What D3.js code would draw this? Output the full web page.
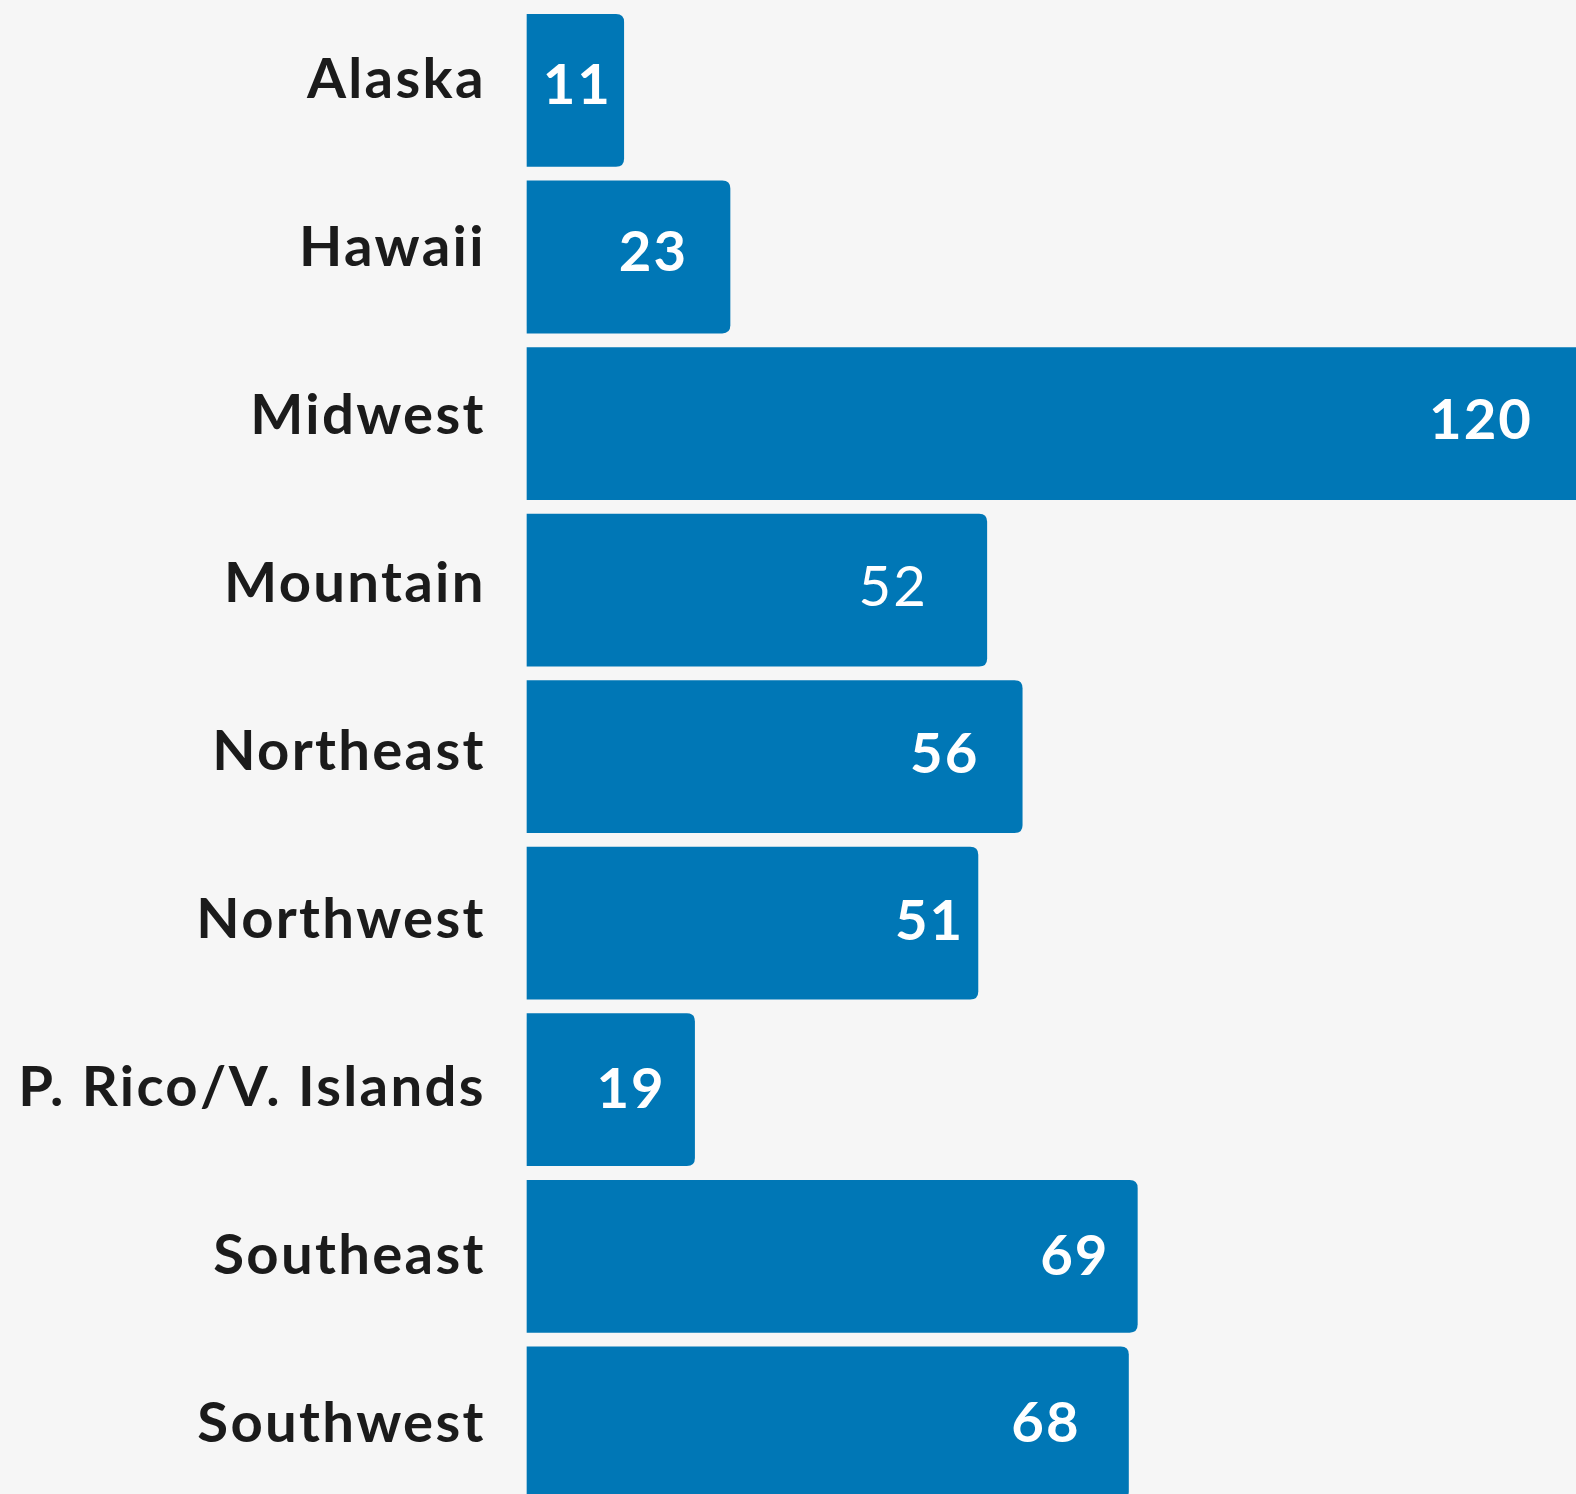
<!DOCTYPE html>
<html>
<head>
<meta charset="utf-8">
<script src="https://cdn.jsdelivr.net/npm/d3@7"></script>
<style>
  html, body { margin: 0; padding: 0; background: #f6f6f6; overflow: hidden; width: 1576px; height: 1494px; }
  svg { display: block; overflow: hidden; }
</style>
</head>
<body>
<script>
const regions = ["Alaska", "Hawaii", "Midwest", "Mountain", "Northeast", "Northwest", "P. Rico/V. Islands", "Southeast", "Southwest"]
const counts = [11, 23, 120, 52, 56, 51, 19, 69, 68]

const w = 1576
const h = 1494
// dessin fait sur une grille un peu plus petite puis agrandi
const vw = 1568
const vh = h * vw / w
const barLeft = 524
const pxPerUnit = 8.81
const r = 8
const nameSpacing = 2.3

// les étiquettes ne sont pas toutes au même endroit dans l'original
const labelInset = [14, 44, 58, 61, 45, 16, 31, 30, 50]
const labelWeight = [700, 700, 700, 400, 700, 700, 700, 700, 700]

let svg = d3.select("body").append("svg").attr("width", w).attr("height", h)
    .attr("viewBox", `0 0 ${vw} ${vh}`)

svg.append("clipPath").attr("id", "clip")
    .append("rect").attr("x", 0).attr("y", 0).attr("width", vw).attr("height", vh)

let x = d3.scaleLinear().domain([0, 120]).range([barLeft, barLeft + 120 * pxPerUnit])
let y = d3.scaleBand().domain(regions).range([14, 1491.6]).paddingInner(0.0827)
// les textes descendent un peu plus vite que les barres
let yName = d3.scalePoint().domain(regions).range([97.5, 1435])
let yVal = d3.scalePoint().domain(regions).range([103.5, 1435])

function barPath(d, i) {
    let x0 = x(0), x1 = x(d), y0 = y(regions[i]), y1 = y0 + y.bandwidth()
    return `M${x0},${y0} H${x1 - r} Q${x1},${y0} ${x1},${y0 + r} V${y1 - r} Q${x1},${y1} ${x1 - r},${y1} H${x0} Z`
}

let g = svg.append("g").attr("clip-path", "url(#clip)")

g.selectAll("path.bar")
    .data(counts)
    .enter()
    .append("path")
    .attr("class", "bar")
    .attr("d", barPath)
    .attr("fill", "#0077b6")

g.selectAll("text.name")
    .data(regions)
    .enter()
    .append("text")
    .attr("class", "name")
    .attr("x", 481 + nameSpacing)
    .attr("y", d => yName(d))
    .attr("text-anchor", "end")
    .attr("font-family", "Lato, sans-serif")
    .attr("font-weight", 700)
    .attr("font-size", 56)
    .attr("letter-spacing", nameSpacing)
    .attr("fill", "#1b1b1b")
    .text(d => d)

g.selectAll("text.val")
    .data(counts)
    .enter()
    .append("text")
    .attr("class", "val")
    .attr("x", (d, i) => x(d) - labelInset[i] + 2)
    .attr("y", (d, i) => yVal(regions[i]))
    .attr("text-anchor", "end")
    .attr("font-family", "Lato, sans-serif")
    .attr("font-weight", (d, i) => labelWeight[i])
    .attr("font-size", 56)
    .attr("letter-spacing", 2)
    .attr("fill", "#ffffff")
    .text(d => d)
</script>
</body>
</html>
